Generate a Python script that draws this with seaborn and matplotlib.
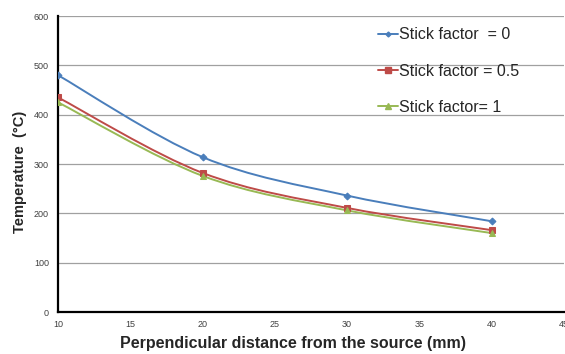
import matplotlib
matplotlib.use("Agg")
import matplotlib.pyplot as plt
from matplotlib.path import Path
from matplotlib.patches import PathPatch
from matplotlib.lines import Line2D
import seaborn as sns
import numpy as np
import pandas as pd

# data
distance = [10, 20, 30, 40]
temp_sf0 = [480, 314, 236, 184]
temp_sf05 = [435, 282, 211, 166]
temp_sf1 = [425, 276, 206, 160]
labels = ["Stick factor  = 0", "Stick factor = 0.5", "Stick factor= 1"]
colors = ["#4A7EBB", "#BE4B48", "#98B954"]
markers = ["D", "s", "^"]
msizes = [3.5, 5, 5]

sns.set_style("white")
plt.rcParams['font.family'] = ['Liberation Sans', 'DejaVu Sans']

fig = plt.figure(figsize=(5.65, 3.54), dpi=100)
ax = fig.add_axes([0.1027, 0.1186, 0.8953, 0.8362])


def smooth_path(ax, xs, ys, color):
    """Excel-style smoothed line: Catmull-Rom segments as cubic Beziers"""
    pts = np.column_stack([xs, ys]).astype(float)
    verts = [pts[0]]
    codes = [Path.MOVETO]
    n = len(pts)
    for i in range(n - 1):
        p0 = pts[max(i - 1, 0)]
        p1 = pts[i]
        p2 = pts[i + 1]
        p3 = pts[min(i + 2, n - 1)]
        c1 = p1 + (p2 - p0) / 6.0
        c2 = p2 - (p3 - p1) / 6.0
        verts += [c1, c2, p2]
        codes += [Path.CURVE4] * 3
    ax.add_patch(PathPatch(Path(verts, codes), facecolor='none',
                           edgecolor=color, lw=1.4, zorder=3))


series = [temp_sf0, temp_sf05, temp_sf1]
handles = []
for vals, lab, col, mk, ms in zip(series, labels, colors, markers, msizes):
    df = pd.DataFrame({'x': distance, 'y': vals})
    smooth_path(ax, df['x'], df['y'], col)
    sns.lineplot(data=df, x='x', y='y', ax=ax, color=col, marker=mk,
                 markersize=ms, markeredgecolor=col, linestyle='none',
                 legend=False, zorder=4)
    handles.append(Line2D([], [], color=col, lw=1.4, marker=mk,
                          markersize=ms - 1, markeredgecolor=col, label=lab))

ax.set_xlim(10, 45)
ax.set_ylim(0, 600)
ax.set_xticks(range(10, 46, 5))
ax.set_yticks(range(0, 601, 100))
ax.yaxis.grid(True, color='#A0A0A0', lw=0.9)
ax.xaxis.grid(False)
for s in ['top', 'right']:
    ax.spines[s].set_visible(False)
for s in ['left', 'bottom']:
    ax.spines[s].set_color('black')
    ax.spines[s].set_linewidth(1.6)
ax.tick_params(axis='both', labelsize=6.5, labelcolor='#404040',
               colors='#404040', length=3, width=0.8)
ax.tick_params(axis='x', direction='inout', length=4)
ax.tick_params(axis='y', direction='out', length=3)

ax.set_xlabel('Perpendicular distance from the source (mm)', fontsize=11.5,
              fontweight='bold')
ax.set_ylabel('Temperature  (\u00b0C)', fontsize=10.5, fontweight='bold')
ax.xaxis.set_label_coords(0.464, -0.105)
ax.yaxis.set_label_coords(-0.075, 0.473)
ax.xaxis.label.set_verticalalignment('center')
ax.yaxis.label.set_verticalalignment('center')

ax.legend(handles=handles, loc='upper left', bbox_to_anchor=(0.619, 0.983),
          frameon=False, fontsize=11.5, labelspacing=1.33, handlelength=1.3,
          handletextpad=0.05, borderaxespad=0)

fig.savefig('out.png', dpi=100)
